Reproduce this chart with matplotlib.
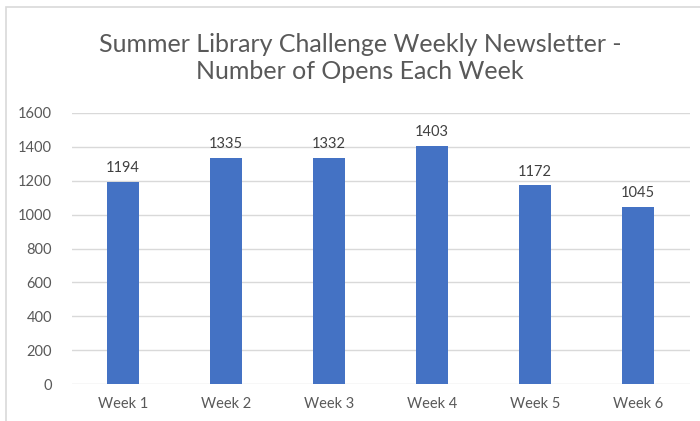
import matplotlib
matplotlib.use("Agg")
import matplotlib.pyplot as plt
from matplotlib.patches import Rectangle

categories = ["Week 1", "Week 2", "Week 3", "Week 4", "Week 5", "Week 6"]
opens = [1194, 1335, 1332, 1403, 1172, 1045]
yticks = [0, 200, 400, 600, 800, 1000, 1200, 1400, 1600]

plt.rcParams['font.family'] = ['Lato', 'DejaVu Sans']

fig = plt.figure(figsize=(7.0, 4.21), dpi=100)
fig.patch.set_facecolor("white")
# chart border
fig.add_artist(Rectangle((6/700, -0.1), 1.2, (421-7)/421 + 0.1, transform=fig.transFigure,
                         fill=False, edgecolor="#d9d9d9", linewidth=1.2))

ax = fig.add_axes([71.5/700, 1 - 384/421, (689.5-71.5)/700, (384-113)/421])
x = list(range(len(categories)))
bars = ax.bar(x, opens, width=0.31, color="#4472C4", zorder=3)
ax.set_xlim(-0.5, len(categories) - 0.5)
ax.set_ylim(0, 1600)
ax.set_yticks(yticks)
ax.set_yticklabels([str(v) for v in yticks])
ax.set_xticks(x)
ax.set_xticklabels(categories)
ax.grid(axis="y", color="#d9d9d9", linewidth=1, zorder=0)
for s in ax.spines.values():
    s.set_visible(False)
ax.tick_params(length=0, labelsize=10.5, colors="#595959")
ax.tick_params(axis="y", pad=14)
ax.tick_params(axis="x", pad=9)
for xi, v in zip(x, opens):
    ax.annotate(str(v), (xi, v), xytext=(0, 5), textcoords="offset points",
                ha="center", va="bottom", fontsize=10.5, color="#404040")

fig.text(360/700, 1 - 58/421, "Summer Library Challenge Weekly Newsletter -\nNumber of Opens Each Week",
         ha="center", va="center", fontsize=18, color="#595959", linespacing=1.25)

fig.savefig("out.png", dpi=100, facecolor="white")
